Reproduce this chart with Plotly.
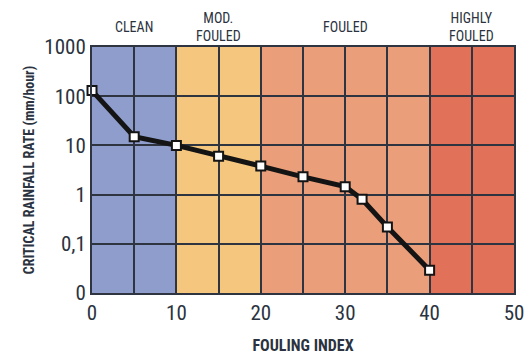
import plotly.graph_objects as go

# Fouling index vs critical rainfall rate
fouling_index = [0, 5, 10, 15, 20, 25, 30, 32, 35, 40]
rainfall_rate = [130, 15, 10, 6, 3.8, 2.3, 1.45, 0.8, 0.22, 0.029]

# Fouling classes: name, start, end, fill colour
class_names = ["CLEAN", "MOD.<br>FOULED", "FOULED", "HIGHLY<br>FOULED"]
class_start = [0, 10, 20, 40]
class_end = [10, 20, 40, 50]
class_colors = ["#8e9dcb", "#f5c67e", "#eb9e7a", "#e2715a"]

y_tickvals = [0.01, 0.1, 1, 10, 100, 1000]
y_ticktext = ["0", "0,1", "1", "10", "100", "1000"]
x_tickvals = [0, 10, 20, 30, 40, 50]

FONT = "Liberation Sans Narrow, Arial Narrow, Roboto Condensed, sans-serif"
TEXT = "#2b3340"
GRID = "#2e3440"

fig = go.Figure()

fig.add_trace(go.Scatter(
    x=fouling_index, y=rainfall_rate,
    mode="lines+markers",
    line=dict(color="#141414", width=5),
    marker=dict(symbol="square", size=9, color="white",
                line=dict(color="#141414", width=2)),
    showlegend=False, cliponaxis=False,
))

shapes = []
annotations = []
for name, x0, x1, col in zip(class_names, class_start, class_end, class_colors):
    shapes.append(dict(type="rect", xref="x", yref="paper", x0=x0, x1=x1,
                       y0=0, y1=1, fillcolor=col, line_width=0, layer="below"))
    annotations.append(dict(text=name, x=(x0 + x1) / 2, xref="x", y=1.083,
                            yref="paper", yanchor="middle", showarrow=False,
                            font=dict(family=FONT, size=14, color=TEXT)))

fig.update_layout(
    width=525, height=360,
    margin=dict(l=92, r=11, t=47, b=67, autoexpand=False),
    paper_bgcolor="white", plot_bgcolor="white",
    shapes=shapes, annotations=annotations,
    font=dict(family=FONT, color=TEXT),
)

fig.update_xaxes(
    range=[0, 50], tickvals=x_tickvals, automargin=False,
    showgrid=True, gridcolor=GRID, gridwidth=1.5,
    showline=True, linecolor=GRID, linewidth=2, mirror=True,
    zeroline=False, ticks="",
    tickfont=dict(family=FONT, size=21, color=TEXT),
    title=dict(text="<b>FOULING INDEX</b>", font=dict(family=FONT, size=16, color=TEXT),
               standoff=16),
)
fig.update_xaxes(minor=dict(tickvals=[5, 15, 25, 35, 45], showgrid=True,
                            gridcolor=GRID, gridwidth=1.5))

fig.update_yaxes(
    type="log", range=[-2, 3], automargin=False,
    tickvals=y_tickvals, ticktext=y_ticktext,
    showgrid=True, gridcolor=GRID, gridwidth=1.5,
    showline=True, linecolor=GRID, linewidth=2, mirror=True,
    zeroline=False, ticks="", ticklen=0,
    tickfont=dict(family=FONT, size=21, color=TEXT),
    title=dict(text="<b>CRITICAL RAINFALL RATE (mm/hour)</b>",
               font=dict(family=FONT, size=14, color=TEXT), standoff=6),
)

fig.write_html("out.html")
